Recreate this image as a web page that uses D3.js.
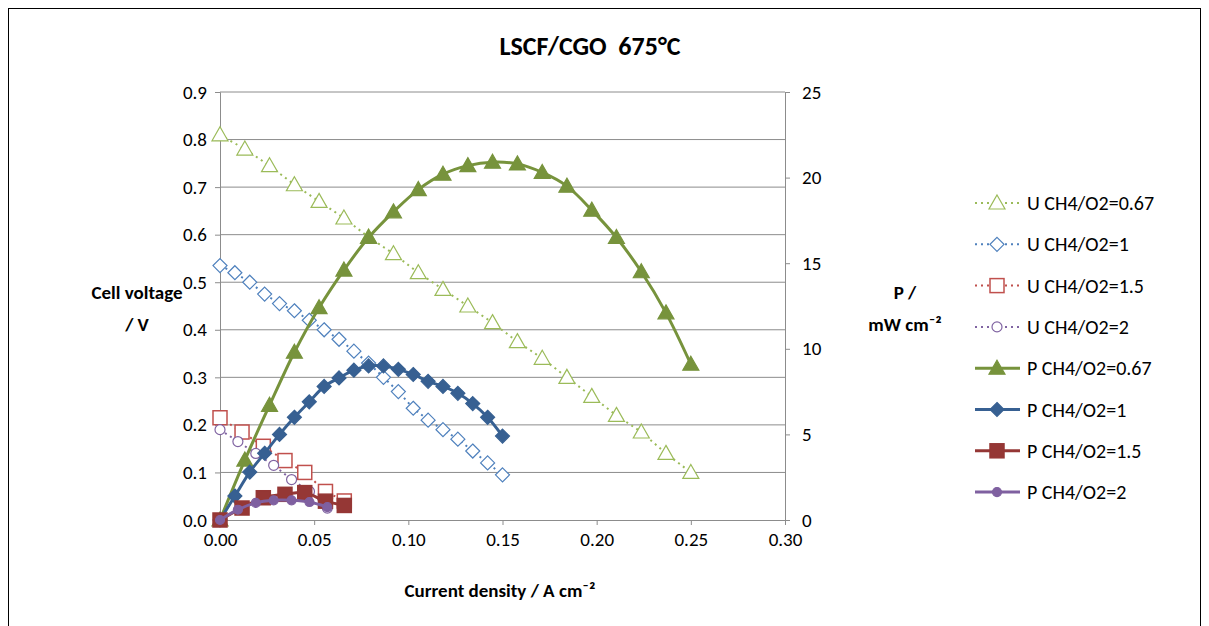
<!DOCTYPE html>
<html><head><meta charset="utf-8">
<script src="https://cdn.jsdelivr.net/npm/d3@7"></script>
<style>body{margin:0;background:#fff}text{font-family:Calibri,Carlito,"Open Sans",sans-serif}</style>
</head><body><svg id="c" width="1209" height="626"></svg>
<script>
var xU67 = [0,0.0132,0.0263,0.0395,0.0526,0.0658,0.0789,0.0921,0.1053,0.1184,0.1316,0.1447,0.1579,0.1711,0.1842,0.1974,0.2105,0.2237,0.2368,0.25];
var u67 = [0.81,0.78,0.745,0.705,0.67,0.635,0.595,0.56,0.52,0.485,0.45,0.415,0.375,0.34,0.30,0.26,0.22,0.185,0.14,0.10];
var p67 = [0,3.5,6.7,9.8,12.4,14.6,16.5,18.0,19.3,20.2,20.7,20.9,20.8,20.3,19.5,18.1,16.5,14.5,12.1,9.1];
var xU1 = [0,0.0079,0.0158,0.0237,0.0316,0.0395,0.0474,0.0553,0.0632,0.0711,0.0789,0.0868,0.0947,0.1026,0.1105,0.1184,0.1263,0.1342,0.1421,0.15];
var u1 = [0.535,0.52,0.50,0.475,0.455,0.44,0.42,0.40,0.38,0.355,0.33,0.30,0.27,0.235,0.21,0.19,0.17,0.145,0.12,0.095];
var p1 = [0,1.4,2.8,3.9,5.0,6.0,6.9,7.8,8.3,8.75,9.0,9.0,8.8,8.5,8.1,7.8,7.4,6.8,6.0,4.9];
var x15 = [0,0.0117,0.023,0.0345,0.045,0.056,0.066];
var u15 = [0.215,0.185,0.155,0.125,0.10,0.06,0.04];
var p15 = [0,0.7,1.3,1.5,1.6,1.1,0.85];
var x2 = [0,0.0095,0.019,0.0285,0.038,0.0475,0.057];
var u2 = [0.19,0.165,0.14,0.115,0.085,0.06,0.025];
var p2 = [0,0.6,1.0,1.15,1.15,1.05,0.75];
var xTicks = [0,0.05,0.10,0.15,0.20,0.25,0.30];

var svg = d3.select("#c");
svg.append("rect").attr("x",8.5).attr("y",8.5).attr("width",1192).attr("height",640).attr("fill","none").attr("stroke","#000");
var x = d3.scaleLinear().domain([0,0.3]).range([220,785]);
var yL = d3.scaleLinear().domain([0,0.9]).range([520,92]);
var yR = d3.scaleLinear().domain([0,25]).range([520,92]);

svg.append("g").selectAll("line").data(d3.range(1,10).map(d=>d/10)).join("line")
  .attr("x1",220).attr("x2",785).attr("y1",d=>yL(d)).attr("y2",d=>yL(d)).attr("stroke","#8c8c8c");

var fmt1 = d3.format(".1f"), fmt2 = d3.format(".2f");
var gl = svg.append("g").attr("transform","translate(220,0)")
  .call(d3.axisLeft(yL).tickValues(d3.range(0,10).map(d=>d/10)).tickFormat(fmt1).tickSize(5).tickPadding(8));
var gr = svg.append("g").attr("transform","translate(785,0)")
  .call(d3.axisRight(yR).tickValues([0,5,10,15,20,25]).tickSize(5).tickPadding(12));
var gb = svg.append("g").attr("transform","translate(0,520)")
  .call(d3.axisBottom(x).tickValues(xTicks).tickFormat(fmt2).tickSize(5).tickPadding(8));
[gl,gr,gb].forEach(g=>{g.select(".domain").attr("stroke","#8c8c8c");g.selectAll(".tick line").attr("stroke","#8c8c8c");
  g.selectAll("text").attr("font-size",19).attr("fill","#000").style("font-family","Calibri,Carlito,'Open Sans',sans-serif");});

svg.append("text").attr("x",590).attr("y",55).attr("text-anchor","middle").attr("font-size",26).attr("font-weight","bold")
  .style("white-space","pre").text("LSCF/CGO  675°C");
svg.append("text").attr("x",500).attr("y",597).attr("text-anchor","middle").attr("font-size",19).attr("font-weight","bold").text("Current density / A cm⁻²");
svg.append("text").attr("x",137).attr("y",299).attr("text-anchor","middle").attr("font-size",19).attr("font-weight","bold").text("Cell voltage");
svg.append("text").attr("x",137).attr("y",331).attr("text-anchor","middle").attr("font-size",19).attr("font-weight","bold").text("/ V");
svg.append("text").attr("x",905).attr("y",299).attr("text-anchor","middle").attr("font-size",19).attr("font-weight","bold").text("P /");
svg.append("text").attr("x",905).attr("y",331).attr("text-anchor","middle").attr("font-size",19).attr("font-weight","bold").text("mW cm⁻²");

function marker(g, type, cx, cy, col, filled){
  var f = filled ? col : "#fff";
  if(type=="tri") g.append("path").attr("d",`M${cx},${cy-8}L${cx+8},${cy+6}L${cx-8},${cy+6}Z`).attr("fill",f).attr("stroke",col).attr("stroke-width",1.2);
  if(type=="dia") g.append("path").attr("d",`M${cx},${cy-7}L${cx+7},${cy}L${cx},${cy+7}L${cx-7},${cy}Z`).attr("fill",f).attr("stroke",col).attr("stroke-width",1.2);
  if(type=="sq") g.append("rect").attr("x",cx-7).attr("y",cy-7).attr("width",14).attr("height",14).attr("fill",f).attr("stroke",col).attr("stroke-width",1.5);
  if(type=="cir") g.append("circle").attr("cx",cx).attr("cy",cy).attr("r",filled?4.5:5).attr("fill",f).attr("stroke",col).attr("stroke-width",1.2);
}
var series = [
  {name:"U CH4/O2=0.67",xs:xU67,ys:u67,y:yL,col:"#9BBB59",m:"tri",p:false},
  {name:"U CH4/O2=1",xs:xU1,ys:u1,y:yL,col:"#4F81BD",m:"dia",p:false},
  {name:"U CH4/O2=1.5",xs:x15,ys:u15,y:yL,col:"#C0504D",m:"sq",p:false},
  {name:"U CH4/O2=2",xs:x2,ys:u2,y:yL,col:"#8064A2",m:"cir",p:false},
  {name:"P CH4/O2=0.67",xs:xU67,ys:p67,y:yR,col:"#77933C",m:"tri",p:true},
  {name:"P CH4/O2=1",xs:xU1,ys:p1,y:yR,col:"#376092",m:"dia",p:true},
  {name:"P CH4/O2=1.5",xs:x15,ys:p15,y:yR,col:"#953735",m:"sq",p:true},
  {name:"P CH4/O2=2",xs:x2,ys:p2,y:yR,col:"#7F60A0",m:"cir",p:true}
];
series.forEach(function(s){
  var pts = s.xs.map((v,i)=>[x(v), s.y(s.ys[i])]);
  var line = d3.line().curve(s.p ? d3.curveCatmullRom : d3.curveLinear);
  svg.append("path").attr("d",line(pts)).attr("fill","none").attr("stroke",s.col)
    .attr("stroke-width",s.p?3:2).attr("stroke-dasharray",s.p?null:"2,4");
  var g = svg.append("g");
  pts.forEach(p=>marker(g,s.m,p[0],p[1],s.col,s.p));
});
series.forEach(function(s,i){
  var ly = 203 + i*41.3;
  svg.append("line").attr("x1",975).attr("x2",1020).attr("y1",ly).attr("y2",ly).attr("stroke",s.col)
    .attr("stroke-width",s.p?3:2).attr("stroke-dasharray",s.p?null:"2,4");
  var g = svg.append("g"); marker(g,s.m,997,ly,s.col,s.p);
  svg.append("text").attr("x",1027).attr("y",ly+7).attr("font-size",20).text(s.name);
});
</script></body></html>
